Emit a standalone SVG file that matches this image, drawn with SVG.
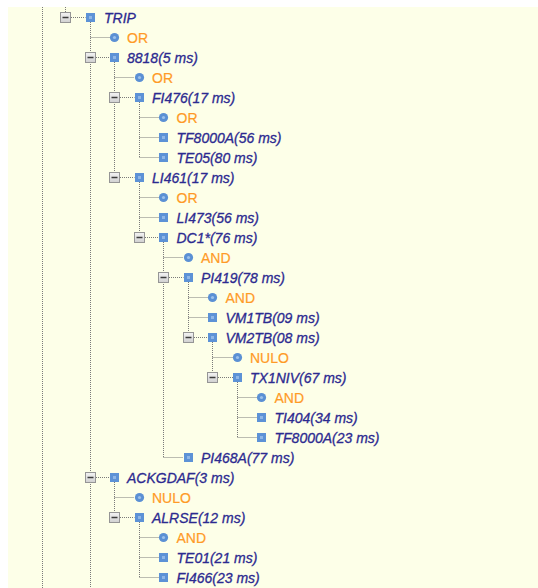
<svg xmlns="http://www.w3.org/2000/svg" width="538" height="588" viewBox="0 0 538 588">
<defs>
<style>
.ln{stroke:#7a7a7a;stroke-width:1;stroke-dasharray:1 1;fill:none}
.t{font-family:"Liberation Sans",Arial,sans-serif;font-size:14px;font-style:italic;fill:#2c2a90;stroke:#2c2a90;stroke-width:0.3}
.o{font-family:"Liberation Sans",Arial,sans-serif;font-size:14px;fill:#ff9a26;stroke:#ff9a26;stroke-width:0.2}
</style>
<linearGradient id="eg" x1="0" y1="0" x2="0" y2="1"><stop offset="0" stop-color="#f4f4f4"/><stop offset="1" stop-color="#d0d0d0"/></linearGradient>
<g id="sq"><rect x="-4.5" y="-4.5" width="9" height="9" fill="#5d92d6"/><rect x="-1.5" y="-1.5" width="3" height="3" fill="#8fb6e6"/></g>
<g id="ci"><circle r="4.6" fill="#5b90d4"/><circle r="1.6" fill="#9cc0ea"/></g>
<g id="ex"><rect x="-5" y="-5" width="10" height="10" fill="url(#eg)" stroke="#959595"/><rect x="-3" y="-0.75" width="6" height="1.5" fill="#3c3c3c"/></g>
</defs>
<rect x="0" y="0" width="538" height="588" fill="#ffffff"/>
<rect x="8" y="7" width="530" height="581" fill="#fdffe8"/>
<g id="connectors">
<path class="ln" d="M42.5 7V588M65.5 7V12M90.5 22V588"/>
<path class="ln" d="M71 17.5H85.5M90.5 37.5H110M96 57.5H110"/>
<path class="ln" d="M114.5 62V177.5M114.5 77.5H134.5M120 97.5H134.5M120 177.5H134.5"/>
<path class="ln" d="M139.5 102V157.5M139.5 117.5H159M139.5 137.5H159M139.5 157.5H159"/>
<path class="ln" d="M139.5 182V237.5M139.5 197.5H159M139.5 217.5H159M145 237.5H159"/>
<path class="ln" d="M163.5 242V457.5M163.5 257.5H183.5M169 277.5H183.5M163.5 457.5H183.5"/>
<path class="ln" d="M188.5 282V337.5M188.5 297.5H208M188.5 317.5H208M194 337.5H208"/>
<path class="ln" d="M212.5 342V377.5M212.5 357.5H233M218 377.5H233"/>
<path class="ln" d="M237.5 382V437.5M237.5 397.5H257M237.5 417.5H257M237.5 437.5H257"/>
<path class="ln" d="M96 477.5H110M114.5 482V517.5M114.5 497.5H134.5M120 517.5H134.5"/>
<path class="ln" d="M139.5 522V577.5M139.5 537.5H159M139.5 557.5H159M139.5 577.5H159"/>
</g>
<g id="n-trip"><use href="#ex" x="65.5" y="17.5"/><use href="#sq" x="90.5" y="17.5"/><text class="t" x="104" y="22.5">TRIP</text></g>
<g id="n-or1"><use href="#ci" x="114.5" y="37.5"/><text class="o" x="127" y="42.5">OR</text></g>
<g id="n-8818"><use href="#ex" x="90.5" y="57.5"/><use href="#sq" x="114.5" y="57.5"/><text class="t" x="127" y="62.5">8818(5 ms)</text></g>
<g id="n-or2"><use href="#ci" x="139.5" y="77.5"/><text class="o" x="152" y="82.5">OR</text></g>
<g id="n-fi476"><use href="#ex" x="114.5" y="97.5"/><use href="#sq" x="139.5" y="97.5"/><text class="t" x="152" y="102.5">FI476(17 ms)</text></g>
<g id="n-or3"><use href="#ci" x="163.5" y="117.5"/><text class="o" x="176.5" y="122.5">OR</text></g>
<g id="n-tf8000a-56"><use href="#sq" x="163.5" y="137.5"/><text class="t" x="176.5" y="142.5">TF8000A(56 ms)</text></g>
<g id="n-te05"><use href="#sq" x="163.5" y="157.5"/><text class="t" x="176.5" y="162.5">TE05(80 ms)</text></g>
<g id="n-li461"><use href="#ex" x="114.5" y="177.5"/><use href="#sq" x="139.5" y="177.5"/><text class="t" x="152" y="182.5">LI461(17 ms)</text></g>
<g id="n-or4"><use href="#ci" x="163.5" y="197.5"/><text class="o" x="176.5" y="202.5">OR</text></g>
<g id="n-li473"><use href="#sq" x="163.5" y="217.5"/><text class="t" x="176.5" y="222.5">LI473(56 ms)</text></g>
<g id="n-dc1"><use href="#ex" x="139.5" y="237.5"/><use href="#sq" x="163.5" y="237.5"/><text class="t" x="176.5" y="242.5">DC1*(76 ms)</text></g>
<g id="n-and1"><use href="#ci" x="188.5" y="257.5"/><text class="o" x="201" y="262.5">AND</text></g>
<g id="n-pi419"><use href="#ex" x="163.5" y="277.5"/><use href="#sq" x="188.5" y="277.5"/><text class="t" x="201" y="282.5">PI419(78 ms)</text></g>
<g id="n-and2"><use href="#ci" x="212.5" y="297.5"/><text class="o" x="225.5" y="302.5">AND</text></g>
<g id="n-vm1tb"><use href="#sq" x="212.5" y="317.5"/><text class="t" x="225.5" y="322.5">VM1TB(09 ms)</text></g>
<g id="n-vm2tb"><use href="#ex" x="188.5" y="337.5"/><use href="#sq" x="212.5" y="337.5"/><text class="t" x="225.5" y="342.5">VM2TB(08 ms)</text></g>
<g id="n-nulo1"><use href="#ci" x="237.5" y="357.5"/><text class="o" x="250" y="362.5">NULO</text></g>
<g id="n-tx1niv"><use href="#ex" x="212.5" y="377.5"/><use href="#sq" x="237.5" y="377.5"/><text class="t" x="250" y="382.5">TX1NIV(67 ms)</text></g>
<g id="n-and3"><use href="#ci" x="261.5" y="397.5"/><text class="o" x="274.5" y="402.5">AND</text></g>
<g id="n-ti404"><use href="#sq" x="261.5" y="417.5"/><text class="t" x="274.5" y="422.5">TI404(34 ms)</text></g>
<g id="n-tf8000a-23"><use href="#sq" x="261.5" y="437.5"/><text class="t" x="274.5" y="442.5">TF8000A(23 ms)</text></g>
<g id="n-pi468a"><use href="#sq" x="188.5" y="457.5"/><text class="t" x="201" y="462.5">PI468A(77 ms)</text></g>
<g id="n-ackgdaf"><use href="#ex" x="90.5" y="477.5"/><use href="#sq" x="114.5" y="477.5"/><text class="t" x="127" y="482.5">ACKGDAF(3 ms)</text></g>
<g id="n-nulo2"><use href="#ci" x="139.5" y="497.5"/><text class="o" x="152" y="502.5">NULO</text></g>
<g id="n-alrse"><use href="#ex" x="114.5" y="517.5"/><use href="#sq" x="139.5" y="517.5"/><text class="t" x="152" y="522.5">ALRSE(12 ms)</text></g>
<g id="n-and4"><use href="#ci" x="163.5" y="537.5"/><text class="o" x="176.5" y="542.5">AND</text></g>
<g id="n-te01"><use href="#sq" x="163.5" y="557.5"/><text class="t" x="176.5" y="562.5">TE01(21 ms)</text></g>
<g id="n-fi466"><use href="#sq" x="163.5" y="577.5"/><text class="t" x="176.5" y="582.5">FI466(23 ms)</text></g>
</svg>
